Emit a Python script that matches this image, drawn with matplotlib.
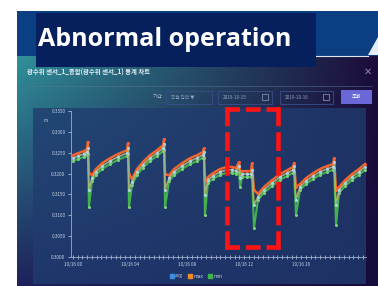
import numpy as np
import matplotlib
matplotlib.use("Agg")
import matplotlib.pyplot as plt
from matplotlib.patches import Rectangle, Polygon
from matplotlib.lines import Line2D
from matplotlib.ticker import MultipleLocator, FormatStrFormatter

plt.rcParams['font.family'] = ['Noto Sans CJK KR', 'DejaVu Sans']

## data (hours since 10/16 00:00)
hours = [0.00, 0.35, 0.77, 0.98, 1.05, 1.12, 1.33, 1.61, 2.04, 2.60, 3.16, 3.79,
         3.86, 3.93, 4.14, 4.49, 4.91, 5.40, 5.89, 6.32,
         6.39, 6.46, 6.74, 7.09, 7.65, 8.21, 8.70, 9.12,
         9.19, 9.26, 9.47, 9.82, 10.32, 10.81, 11.16, 11.44, 11.65, 11.72, 11.86, 12.21, 12.49,
         12.56, 12.70, 12.98, 13.40, 13.96, 14.53, 15.02, 15.44,
         15.51, 15.65, 15.93, 16.35, 16.84, 17.33, 17.82, 18.25,
         18.32, 18.46, 18.67, 19.09, 19.58, 20.07, 20.49]

avg_vals = [0.3237, 0.3242, 0.3247, 0.3252, 0.3261, 0.3161, 0.3189, 0.3204, 0.3218, 0.3230, 0.3240, 0.3249,
            0.3261, 0.3161, 0.3180, 0.3204, 0.3221, 0.3237, 0.3249, 0.3261,
            0.3271, 0.3161, 0.3189, 0.3204, 0.3218, 0.3230, 0.3237, 0.3245,
            0.3252, 0.3149, 0.3185, 0.3194, 0.3204, 0.3209, 0.3209, 0.3206, 0.3218, 0.3189, 0.3199, 0.3199, 0.3199,
            0.3209, 0.3125, 0.3144, 0.3161, 0.3177, 0.3192, 0.3201, 0.3209,
            0.3218, 0.3137, 0.3168, 0.3182, 0.3194, 0.3204, 0.3211, 0.3216,
            0.3228, 0.3125, 0.3161, 0.3177, 0.3192, 0.3204, 0.3216]

max_vals = [0.3244, 0.3249, 0.3254, 0.3259, 0.3276, 0.3201, 0.3196, 0.3211, 0.3225, 0.3237, 0.3247, 0.3256,
            0.3273, 0.3199, 0.3187, 0.3211, 0.3228, 0.3244, 0.3256, 0.3268,
            0.3283, 0.3199, 0.3196, 0.3211, 0.3225, 0.3237, 0.3244, 0.3252,
            0.3261, 0.3182, 0.3192, 0.3201, 0.3211, 0.3216, 0.3216, 0.3213, 0.3228, 0.3206, 0.3206, 0.3206, 0.3206,
            0.3225, 0.3161, 0.3151, 0.3168, 0.3184, 0.3199, 0.3208, 0.3216,
            0.3225, 0.3168, 0.3175, 0.3189, 0.3201, 0.3211, 0.3218, 0.3223,
            0.3237, 0.3161, 0.3168, 0.3184, 0.3199, 0.3211, 0.3223]

min_vals = [0.3230, 0.3235, 0.3240, 0.3245, 0.3246, 0.3120, 0.3182, 0.3197, 0.3211, 0.3223, 0.3233, 0.3242,
            0.3246, 0.3120, 0.3173, 0.3197, 0.3214, 0.3230, 0.3242, 0.3254,
            0.3256, 0.3120, 0.3182, 0.3197, 0.3211, 0.3223, 0.3230, 0.3238,
            0.3237, 0.3101, 0.3178, 0.3187, 0.3197, 0.3202, 0.3202, 0.3199, 0.3203, 0.3168, 0.3192, 0.3192, 0.3192,
            0.3194, 0.3070, 0.3137, 0.3154, 0.3170, 0.3185, 0.3194, 0.3202,
            0.3203, 0.3101, 0.3161, 0.3175, 0.3187, 0.3197, 0.3204, 0.3209,
            0.3213, 0.3077, 0.3154, 0.3170, 0.3185, 0.3197, 0.3209]

x_ticks = [0, 4, 8, 12, 16]
x_labels = ['10/16 00', '10/16 04', '10/16 08', '10/16 12', '10/16 16']
y_ticks = [0.3000, 0.3050, 0.3100, 0.3150, 0.3200, 0.3250, 0.3300, 0.3350]

W, H = 378, 286
fig = plt.figure(figsize=(W / 100, H / 100), dpi=100)
fig.patch.set_facecolor('white')

## background canvas in pixel units
bg = fig.add_axes([0, 0, 1, 1])
bg.set_xlim(0, W)
bg.set_ylim(H, 0)
bg.axis('off')

## modal gradient (teal top-left -> dark purple right)
c_tl = np.array([0x30, 0x90, 0x98]) / 255
c_tr = np.array([0x1c, 0x0c, 0x3a]) / 255
c_bl = np.array([0x1e, 0x22, 0x5c]) / 255
c_br = np.array([0x16, 0x0c, 0x3c]) / 255
gx = np.linspace(0, 1, 120)[None, :, None]
gy = np.linspace(0, 1, 80)[:, None, None]
grad = (c_tl * (1 - gx) * (1 - gy) + c_tr * gx * (1 - gy)
        + c_bl * (1 - gx) * gy + c_br * gx * gy)
bg.imshow(grad, extent=(17, W, H, 56), aspect='auto', interpolation='bilinear', zorder=1)

## top banner
bg.add_patch(Rectangle((17, 11), W - 17, 45, facecolor='#0b3f82', edgecolor='none', zorder=2))
bg.add_patch(Polygon([(368, 55), (378, 37), (378, 55)], closed=True, facecolor='#e6ecf4', zorder=3))
bg.plot([316, 368], [55.5, 55.5], color='#dfe8f2', lw=0.8, zorder=3)

## title box
bg.add_patch(Rectangle((36, 13), 280, 54, facecolor='#06205e', edgecolor='none', zorder=4))
bg.text(38, 46, 'Abnormal operation', color='white', fontsize=18, fontweight='bold',
        family=['Open Sans', 'DejaVu Sans'], ha='left', va='baseline', zorder=5)

## modal header
bg.text(27, 72, '광수위 센서_1_종합(광수위 센서_1) 통계 차트', color='#e8eef6', fontsize=4.6,
        fontweight='bold', ha='left', va='center', zorder=5)
bg.text(368, 72, '✕', color='#8a8aa8', fontsize=7, ha='center', va='center', zorder=5,
        family=['DejaVu Sans'])
bg.plot([27, 372], [86, 86], color='#5a7896', lw=0.5, alpha=0.7, zorder=5)

## controls row
bg.text(158, 97, '기간', color='#b8c4d8', fontsize=3.8, ha='center', va='center', zorder=5)
for (x0, x1, label) in [(166, 212, '직접 입력 ▼'), (218, 272, '2019-10-15'), (280, 333, '2019-10-16')]:
    bg.add_patch(Rectangle((x0, 91), x1 - x0, 13, facecolor='none', edgecolor='#3c4c8c', lw=0.6, zorder=5))
    bg.text(x0 + 5, 97.5, label, color='#8ea0c8', fontsize=3.3, ha='left', va='center', zorder=5)
    if label.startswith('2019'):
        bg.add_patch(Rectangle((x1 - 10, 94), 6, 6, facecolor='none', edgecolor='#8ea0c8', lw=0.5, zorder=5))
bg.add_patch(Rectangle((341, 90), 31, 14, facecolor='#6a68d6', edgecolor='none', zorder=5))
bg.text(356.5, 97, '조회', color='white', fontsize=3.8, ha='center', va='center', zorder=6)

## plot panel
bg.add_patch(Rectangle((33, 108), 333, 176, facecolor='#203c70', edgecolor='none', alpha=0.78, zorder=5))
bg.text(46, 120, 'm', color='#c8d4e8', fontsize=3.2, ha='center', va='center', zorder=6)

## main chart axes
ax = fig.add_axes([71 / W, 1 - 257 / H, (366 - 71) / W, 146 / H])
ax.set_facecolor('none')
ax.plot(hours, max_vals, color='#ee6a2a', lw=1.7, marker='o', ms=1.2, mec='#ff5a3a', zorder=2)
ax.plot(hours, min_vals, color='#44b24c', lw=1.5, marker='o', ms=1.2, mec='#7ad07a', zorder=3)
ax.plot(hours, avg_vals, color='#e6c43c', lw=1.1, alpha=0.9, zorder=4)
ax.plot(hours, avg_vals, color='#5aa6dc', lw=0.5, marker='o', ms=1.3, mec='#b8e0ee',
        mfc='#5aa6dc', alpha=0.8, zorder=5)

ax.set_xlim(-0.14, 20.56)
ax.set_ylim(0.3000, 0.3350)
ax.set_xticks(x_ticks)
ax.set_xticklabels(x_labels)
ax.xaxis.set_minor_locator(MultipleLocator(1 / 3))
ax.set_yticks(y_ticks)
ax.yaxis.set_major_formatter(FormatStrFormatter('%.4f'))
ax.tick_params(axis='both', labelsize=3.3, colors='#c8d4e8', length=2, width=0.5, pad=2)
ax.tick_params(axis='x', which='minor', direction='inout', length=2.5, width=0.5, colors='#c8d4e8')
ax.tick_params(axis='x', which='major', direction='inout', length=3)
for s in ['top', 'right']:
    ax.spines[s].set_visible(False)
for s in ['left', 'bottom']:
    ax.spines[s].set_color('#9aaccc')
    ax.spines[s].set_linewidth(0.6)

## legend
handles = [Line2D([], [], marker='s', ls='none', color=c, ms=3.2) for c in ['#3a8fe0', '#f08a24', '#3cb54a']]
fig.legend(handles, ['avg', 'max', 'min'], loc='center', bbox_to_anchor=(196 / W, 1 - 276 / H),
           ncol=3, frameon=False, fontsize=3.5, labelcolor='#c8d4e8', handlelength=0.8,
           handletextpad=0.3, columnspacing=1.0)

## red dashed highlight around abnormal section, each side dashed so corners stay solid
lw_px = 4.6
lw_pt = lw_px * 0.72
gap_px = 6.0
rx0, ry0, rx1, ry1 = 227, 109, 278, 247
sides = [((rx0, ry0), (rx1, ry0), 3), ((rx0, ry1), (rx1, ry1), 3),
         ((rx0, ry0), (rx0, ry1), 6), ((rx1, ry0), (rx1, ry1), 6)]
for (p0, p1, n) in sides:
    horiz = p0[1] == p1[1]
    ext = lw_px / 2
    if horiz:
        a, b = (p0[0] - ext, p0[1]), (p1[0] + ext, p1[1])
    else:
        a, b = (p0[0], p0[1] - ext), (p1[0], p1[1] + ext)
    L = abs(b[0] - a[0]) + abs(b[1] - a[1])
    dash_px = (L - (n - 1) * gap_px) / n
    fig.add_artist(Line2D([a[0], b[0]], [a[1], b[1]], color='#ff1414', lw=lw_pt,
                          linestyle=(0, (dash_px / lw_px, gap_px / lw_px)),
                          dash_capstyle='butt', transform=bg.transData, zorder=10))

fig.savefig('out.png', dpi=100)
